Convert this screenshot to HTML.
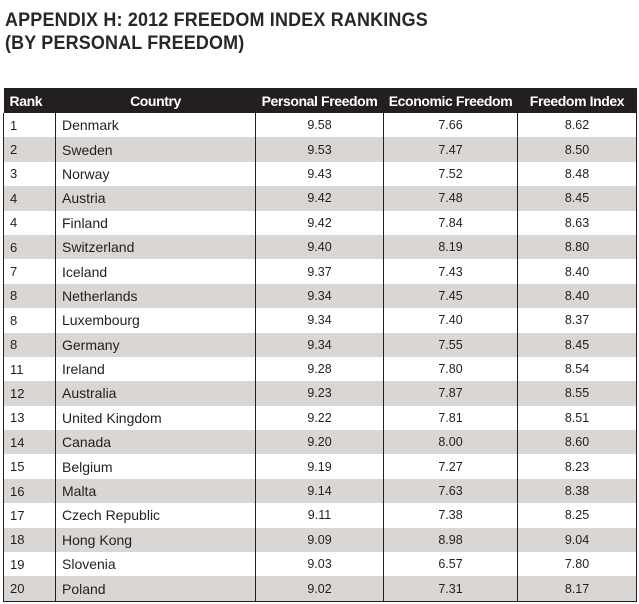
<!DOCTYPE html>
<html><head><meta charset="utf-8"><style>
body{margin:0;width:639px;height:604px;background:#fff;overflow:hidden;font-family:"Liberation Sans",sans-serif;}
#title{position:absolute;left:5px;top:9px;font-size:19.5px;font-weight:bold;line-height:23px;color:#2a2627;letter-spacing:0.2px;transform:scaleX(0.92);transform-origin:left top;}
table{position:absolute;left:3px;top:88px;width:633px;border-collapse:collapse;table-layout:fixed;}
th{background:#231f20;color:#fff;font-size:14px;height:25px;padding:0;font-weight:bold;letter-spacing:-0.4px;}
tbody tr{height:24.4px;}
td{height:24.4px;padding:0;font-size:14px;color:#231f20;border-left:1px solid #231f20;border-right:1px solid #231f20;}
tr.g td{background:#d9d6d3;}
tbody tr:last-child td{border-bottom:1px solid #231f20;}
td.r{padding-left:6px;font-size:13px;}td.c{padding-left:6px;}td.n{text-align:center;font-size:12.5px;}
</style></head><body>
<div id="title">APPENDIX H: 2012 FREEDOM INDEX RANKINGS<br>(BY PERSONAL FREEDOM)</div>
<table>
<colgroup><col style="width:52px"><col style="width:200px"><col style="width:128px"><col style="width:134px"><col style="width:119px"></colgroup>
<thead><tr>
<th style="text-align:left;padding-left:6px">Rank</th>
<th>Country</th>
<th>Personal Freedom</th>
<th>Economic Freedom</th>
<th>Freedom Index</th></tr></thead>
<tbody id="tb"></tbody></table>
<script>
const ranks=[1,2,3,4,4,6,7,8,8,8,11,12,13,14,15,16,17,18,19,20];
const countries=["Denmark","Sweden","Norway","Austria","Finland","Switzerland","Iceland","Netherlands","Luxembourg","Germany","Ireland","Australia","United Kingdom","Canada","Belgium","Malta","Czech Republic","Hong Kong","Slovenia","Poland"];
const personal=["9.58","9.53","9.43","9.42","9.42","9.40","9.37","9.34","9.34","9.34","9.28","9.23","9.22","9.20","9.19","9.14","9.11","9.09","9.03","9.02"];
const economic=["7.66","7.47","7.52","7.48","7.84","8.19","7.43","7.45","7.40","7.55","7.80","7.87","7.81","8.00","7.27","7.63","7.38","8.98","6.57","7.31"];
const index=["8.62","8.50","8.48","8.45","8.63","8.80","8.40","8.40","8.37","8.45","8.54","8.55","8.51","8.60","8.23","8.38","8.25","9.04","7.80","8.17"];
const tb=document.getElementById('tb');
for(let i=0;i<ranks.length;i++){
 const tr=document.createElement('tr');
 
 
 if(i%2)tr.className='g';
 const vals=[ranks[i],countries[i],personal[i],economic[i],index[i]];
 const cls=['r','c','n','n','n'];
 const nm=['rank-cell','country-cell','personal-cell','economic-cell','index-cell'];
 for(let j=0;j<5;j++){
  const td=document.createElement('td');
  
  
  td.className=cls[j];td.textContent=vals[j];tr.appendChild(td);
 }
 tb.appendChild(tr);
}
</script>
</body></html>
